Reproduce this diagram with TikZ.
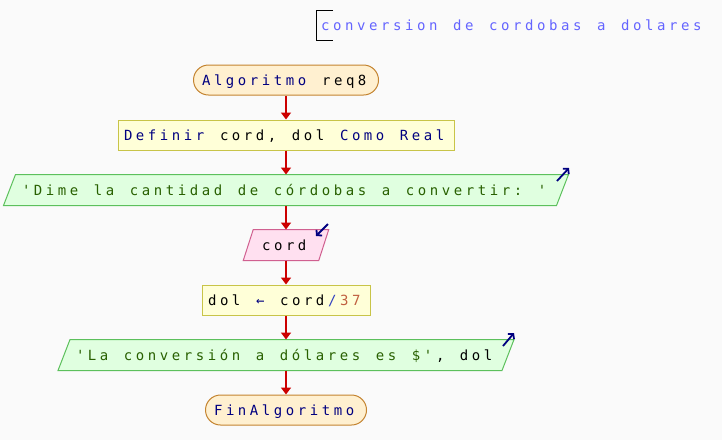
\documentclass[tikz,border=0pt]{standalone}
\usepackage{fontspec}
\newfontfamily\psfont[Ligatures=TeXOff]{DejaVu Sans Mono}
\usetikzlibrary{arrows.meta,backgrounds}
\ExplSyntaxOn
\NewDocumentCommand\ms{m}{\str_map_inline:nn{#1}{\makebox[12pt][l]{##1}}}
\ExplSyntaxOff
\definecolor{bgc}{RGB}{250,250,250}
\definecolor{termF}{RGB}{255,240,208}
\definecolor{termD}{RGB}{196,132,48}
\definecolor{procF}{RGB}{255,255,216}
\definecolor{procD}{RGB}{200,196,72}
\definecolor{outF}{RGB}{224,255,224}
\definecolor{outD}{RGB}{92,192,92}
\definecolor{inF}{RGB}{255,224,240}
\definecolor{inD}{RGB}{208,96,144}
\definecolor{flowR}{RGB}{204,0,0}
\definecolor{kw}{RGB}{0,0,128}
\definecolor{strG}{RGB}{40,96,0}
\definecolor{numC}{RGB}{192,96,64}
\definecolor{opC}{RGB}{48,64,192}
\definecolor{cmtC}{RGB}{100,100,255}
\definecolor{iconC}{RGB}{0,0,128}
\begin{document}
\begin{tikzpicture}[x=1pt,y=-1pt,
  boxbase/.style={minimum height=30pt, inner sep=0pt, text height=11pt, text depth=0pt,
    font=\psfont\fontsize{14pt}{16pt}\selectfont, line width=1pt},
  term/.style={boxbase, draw=termD, fill=termF, rounded corners=15pt},
  proc/.style={boxbase, draw=procD, fill=procF},
  iobox/.style={boxbase},
  flow/.style={draw=flowR, line width=2pt, -{Triangle[length=7pt,width=10pt]}},
  icon/.style={draw=iconC, line width=1.8pt, -{Straight Barb[length=3.5pt,width=8pt]}},
  outshape/.style={draw=outD, fill=outF, line width=1pt},
  inshape/.style={draw=inD, fill=inF, line width=1pt}]
\useasboundingbox (0,0) rectangle (722,440);

% comment
\draw[line width=1pt] (333,10) -- (316,10) -- (316,40) -- (333,40);
\node[anchor=west, inner sep=0pt, text height=11pt, text depth=0pt,
  font=\psfont\fontsize{14pt}{16pt}\selectfont, text=cmtC] (cmt) at (321,25)
  {\ms{conversion de cordobas a dolares}};

\node[term, minimum width=185pt] (start) at (286,80) {{\color{kw}\ms{Algoritmo}}\ms{ req8}};
\node[proc, minimum width=336pt] (def) at (286,135) {{\color{kw}\ms{Definir}}\ms{ cord, dol }{\color{kw}\ms{Como Real}}};
\node[iobox, minimum width=552pt] (out1) at (286,190) {{\color{strG}\ms{'Dime la cantidad de córdobas a convertir: '}}};
\node[iobox, minimum width=74.5pt] (in1) at (286,245) {\ms{cord}};
\node[proc, minimum width=168pt] (calc) at (286,300) {\ms{dol }{\color{kw}\ms{←}}\ms{ cord}{\color{opC}\ms{/}}{\color{numC}\ms{37}}};
\node[iobox, minimum width=443pt] (out2) at (286,355) {{\color{strG}\ms{'La conversión a dólares es $'}}\ms{, dol}};
\node[term, minimum width=161pt] (fin) at (286,410) {{\color{kw}\ms{FinAlgoritmo}}};

\begin{scope}[on background layer]
\fill[bgc] (0,0) rectangle (722,440);
\path[outshape] ([xshift=6pt]out1.north west) -- ([xshift=6pt]out1.north east)
  -- ([xshift=-6pt]out1.south east) -- ([xshift=-6pt]out1.south west) -- cycle;
\path[inshape] ([xshift=5pt]in1.north west) -- ([xshift=5pt]in1.north east)
  -- ([xshift=-5pt]in1.south east) -- ([xshift=-5pt]in1.south west) -- cycle;
\path[outshape] ([xshift=6pt]out2.north west) -- ([xshift=6pt]out2.north east)
  -- ([xshift=-6pt]out2.south east) -- ([xshift=-6pt]out2.south west) -- cycle;
\end{scope}

\draw[flow] (start) -- (def);
\draw[flow] (def) -- (out1);
\draw[flow] (out1) -- (in1);
\draw[flow] (in1) -- (calc);
\draw[flow] (calc) -- (out2);
\draw[flow] (out2) -- (fin);

\draw[icon] (557,181) -- (569,168);
\draw[icon] (328,224) -- (316,236);
\draw[icon] (503,346) -- (514,333);
\end{tikzpicture}
\end{document}
